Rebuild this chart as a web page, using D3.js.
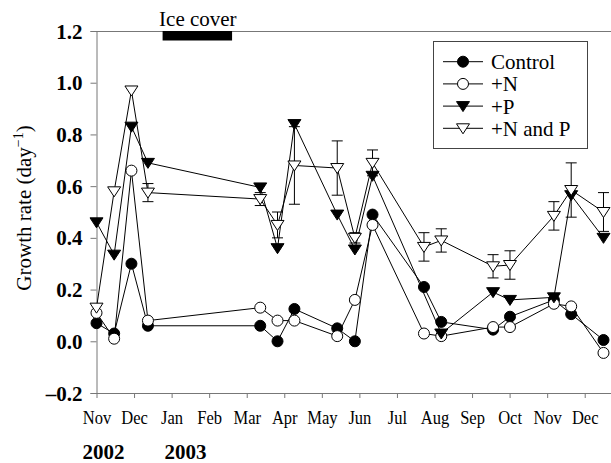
<!DOCTYPE html>
<html><head><meta charset="utf-8">
<script src="https://cdn.jsdelivr.net/npm/d3@7"></script>
<style>
html, body { margin:0; background:#fff; font-family: "Liberation Serif"; }
svg text { font-family: "Liberation Serif"; }
</style>
</head><body><svg id="c" width="611" height="463" font-family="Liberation Serif" style="font-family:'Liberation Serif'"></svg>
<script>
// ---- data ----
const months = ['Nov','Dec','Jan','Feb','Mar','Apr','May','Jun','Jul','Aug','Sep','Oct','Nov','Dec'];
const years = ['2002','2003'];
const yearAtMonth = [0, 2];
const yTicks = [-0.2, 0, 0.2, 0.4, 0.6, 0.8, 1.0, 1.2];
// sampling dates as months since 1 Nov 2002
const sampleMonth = [0, 0.47, 0.93, 1.37, 4.36, 4.82, 5.27, 6.41, 6.88, 7.35, 8.72, 9.18, 10.56, 11.01, 12.18, 12.64, 13.50];
const control = [0.07, 0.03, 0.30, 0.06, 0.06, 0.00, 0.125, 0.05, 0.00, 0.49, 0.21, 0.075, 0.045, 0.095, 0.16, 0.105, 0.005];
const plusN   = [0.11, 0.01, 0.66, 0.08, 0.13, 0.08, 0.08, 0.02, 0.16, 0.45, 0.03, 0.02, 0.055, 0.055, 0.145, 0.135, -0.045];
const plusP   = [0.46, 0.335, 0.83, 0.69, 0.595, 0.36, 0.84, 0.49, 0.355, 0.64, null, 0.03, 0.19, 0.16, 0.17, 0.565, 0.40];
const plusNP  = [0.13, 0.58, 0.97, 0.575, 0.55, 0.45, 0.68, 0.67, 0.40, 0.69, 0.365, 0.39, 0.29, 0.295, 0.485, 0.585, 0.50];
const plusNPErr = [null, null, null, 0.035, 0.025, 0.05, 0.15, 0.105, 0.02, 0.05, 0.055, 0.045, 0.045, 0.055, 0.055, 0.105, 0.075];
const iceCover = [1.76, 3.61];
const legendLabels = ['Control', '+N', '+P', '+N and P'];

// ---- layout ----
const FONT = 'Liberation Serif';
function serif(sel, size, bold) {
  sel.attr('font-family', FONT).attr('font-size', size)
     .style('font-family', '"Liberation Serif"').style('font-size', size + 'px');
  if (bold) sel.attr('font-weight', 'bold').style('font-weight', 'bold');
  return sel;
}
const svg = d3.select('#c');
const x = d3.scaleLinear().domain([0, 13.7]).range([96.5, 611]);
const y = d3.scaleLinear().domain([-0.2, 1.2]).range([393, 31]);
const axisColor = '#777';

// top frame line
svg.append('line').attr('x1', x(0)).attr('x2', 611).attr('y1', y(1.2)+0.5).attr('y2', y(1.2)+0.5)
  .attr('stroke', axisColor).attr('stroke-width', 1);

// y axis
const yAxis = svg.append('g').attr('transform', `translate(${x(0)},0)`)
  .call(d3.axisLeft(y).tickValues(yTicks).tickSize(6).tickPadding(8)
    .tickFormat(d => d < 0 ? '\u2013' + Math.abs(d).toFixed(1) : d.toFixed(1)));
yAxis.attr('font-family', FONT).attr('font-size', 21);
yAxis.select('.domain').attr('stroke', axisColor);
yAxis.selectAll('.tick line').attr('stroke', axisColor);
serif(yAxis.selectAll('.tick text'), 21, true).attr('fill', '#000').attr('dy', '0.34em');

// x axis
const xAxis = svg.append('g').attr('transform', `translate(0,${y(-0.2)})`)
  .call(d3.axisBottom(x).tickValues(d3.range(months.length)).tickSize(5).tickPadding(10)
    .tickFormat(i => months[i]));
xAxis.attr('font-family', FONT).attr('font-size', 19);
xAxis.select('.domain').attr('stroke', axisColor).attr('d', `M${x(0)},0.5H611`);
xAxis.selectAll('.tick line').attr('stroke', axisColor);
serif(xAxis.selectAll('.tick text'), 19, false)
  .attr('fill', '#000').attr('transform', 'scale(0.87,1)').attr('dy', '0.85em');

// year labels
serif(svg.selectAll('.year').data(years).enter().append('text')
  .attr('x', (d, i) => x(yearAtMonth[i]) + (i === 0 ? 7 : 14))
  .attr('y', 459).attr('text-anchor', 'middle'), 21, true)
  .text(d => d);

// y title
serif(svg.append('text').attr('transform', `translate(31,208) rotate(-90)`)
  .attr('text-anchor', 'middle'), 21, false)
  .call(t => {
    t.append('tspan').text('Growth rate (day');
    t.append('tspan').attr('font-size', 14).style('font-size', '14px').attr('dy', -8).text('\u22121');
    t.append('tspan').attr('dy', 8).text(')');
  });

// ice cover bar
svg.append('rect').attr('x', x(iceCover[0])).attr('width', x(iceCover[1]) - x(iceCover[0]))
  .attr('y', y(1.2)).attr('height', 9.5).attr('fill', '#000');
serif(svg.append('text').attr('x', (x(iceCover[0]) + x(iceCover[1])) / 2 + 0.5).attr('y', 26)
  .attr('text-anchor', 'middle'), 21, false).text('Ice cover');

// symbols
const triPath = 'M-6.5,-4.5L6.5,-4.5L0,5.5Z';
function drawMarker(sel, kind) {
  if (kind === 'circle' || kind === 'ocircle') {
    sel.append('circle').attr('r', 5.5).attr('fill', kind === 'circle' ? '#000' : '#fff')
      .attr('stroke', '#000').attr('stroke-width', 1);
  } else {
    sel.append('path').attr('d', triPath).attr('fill', kind === 'tri' ? '#000' : '#fff')
      .attr('stroke', '#000').attr('stroke-width', 1);
  }
}

const series = [
  { vals: control, kind: 'circle' },
  { vals: plusN, kind: 'ocircle' },
  { vals: plusP, kind: 'tri' },
  { vals: plusNP, kind: 'otri', err: plusNPErr },
];

const line = d3.line().x(d => x(d[0])).y(d => y(d[1]));

series.forEach(s => {
  const pts = sampleMonth.map((m, i) => [m, s.vals[i], s.err ? s.err[i] : null]).filter(p => p[1] !== null);
  const g = svg.append('g');
  pts.filter(p => p[2] !== null).forEach(p => {
    const cx = x(p[0]);
    g.append('path')
      .attr('d', `M${cx},${y(p[1] + p[2])}V${y(p[1] - p[2])}M${cx - 5.5},${y(p[1] + p[2])}H${cx + 5.5}M${cx - 5.5},${y(p[1] - p[2])}H${cx + 5.5}`)
      .attr('stroke', '#000').attr('stroke-width', 1).attr('fill', 'none');
  });
  g.append('path').datum(pts).attr('d', line).attr('fill', 'none').attr('stroke', '#000').attr('stroke-width', 1);
  pts.forEach(p => {
    const m = g.append('g').attr('transform', `translate(${x(p[0])},${y(p[1])})`);
    drawMarker(m, s.kind);
  });
});

// legend
const lg = svg.append('g');
lg.append('rect').attr('x', 433.5).attr('y', 41.5).attr('width', 154).attr('height', 107)
  .attr('fill', '#fff').attr('stroke', '#444').attr('stroke-width', 1);
legendLabels.forEach((lab, i) => {
  const cy = 61.7 + i * 22.2;
  lg.append('line').attr('x1', 443).attr('x2', 483).attr('y1', cy).attr('y2', cy)
    .attr('stroke', '#000').attr('stroke-width', 1);
  const m = lg.append('g').attr('transform', `translate(463,${cy})`);
  drawMarker(m, series[i].kind);
  serif(lg.append('text').attr('x', 491).attr('y', cy + 7.5), 21, false).text(lab);
});
</script></body></html>
